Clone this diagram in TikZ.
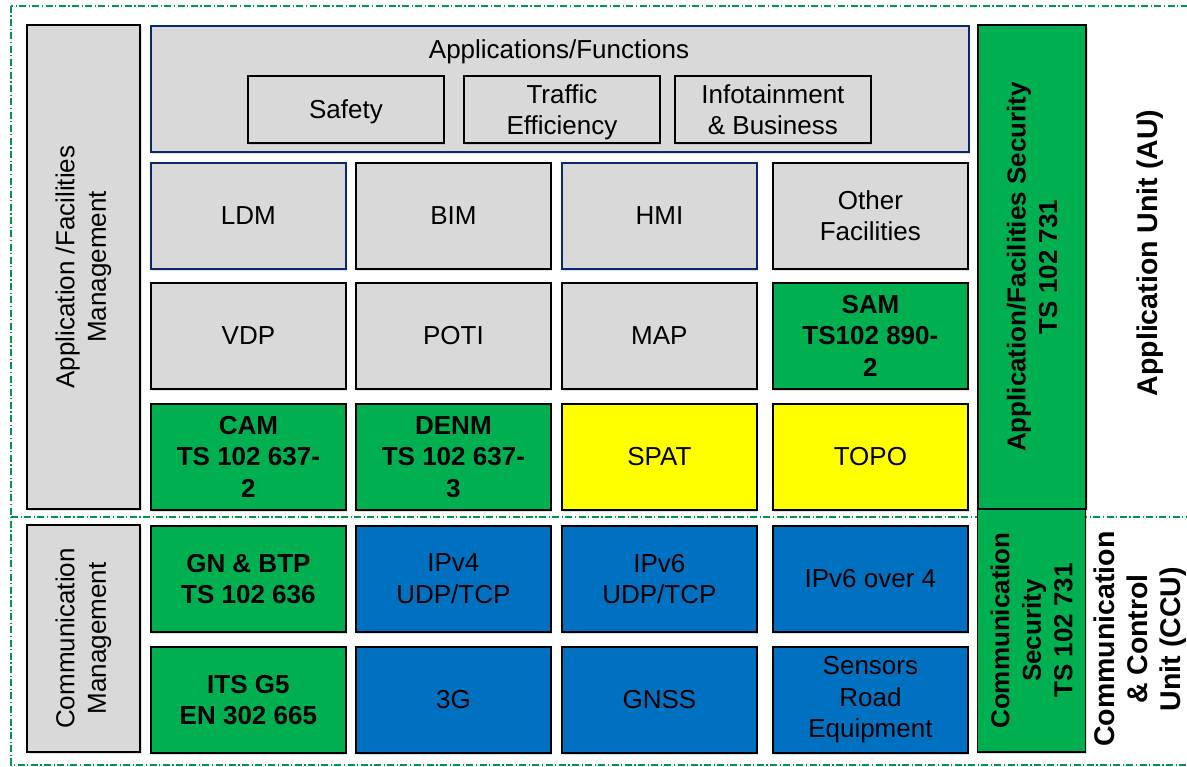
\documentclass[tikz,border=0pt]{standalone}
\usepackage{fontspec}
\setmainfont{Liberation Sans}
\usetikzlibrary{shapes,positioning,shadows}
\definecolor{itsgrey}{RGB}{217,217,217}
\definecolor{itsgreen}{RGB}{0,176,80}
\definecolor{itsblue}{RGB}{0,112,192}
\definecolor{itsyellow}{RGB}{255,255,0}
\definecolor{itsnavy}{RGB}{10,40,110}
\definecolor{itsframe}{RGB}{0,150,80}
\tikzstyle{layer} = [rectangle, draw=black, line width=1.8pt, text=black, align=center, inner sep=2pt, drop shadow={shadow xshift=1.5pt, shadow yshift=-2pt, opacity=0.25}]
\tikzstyle{cell} = [layer, anchor=north west, minimum width=195pt, minimum height=106pt]
\tikzstyle{facility} = [cell, fill=itsgrey]
\tikzstyle{standard} = [cell, fill=itsgreen, font=\bfseries]
\tikzstyle{signal} = [cell, fill=itsyellow]
\tikzstyle{network} = [cell, fill=itsblue]
\tikzstyle{application} = [layer, anchor=north west, fill=itsgrey, minimum width=196pt, minimum height=67pt, text depth=-3pt]
\tikzstyle{mgmt} = [layer, fill=itsgrey, rotate=90, minimum height=113pt]
\tikzstyle{security} = [layer, fill=itsgreen, rotate=90, minimum height=108pt, font=\bfseries]
\tikzstyle{unitlabel} = [rotate=90, align=center, font=\fontsize{28.5}{33}\selectfont\bfseries]
\tikzstyle{unitframe} = [draw=itsframe, line width=1.5pt, dash pattern=on 7pt off 2.5pt on 1.2pt off 2.5pt]

\begin{document}
\fontsize{26}{31.5}\selectfont
\begin{tikzpicture}[x=1pt, y=-1pt]
\useasboundingbox (0,0) rectangle (1187,767);

% Unit frames
\draw[unitframe] (11,6) rectangle (1200,765);
\draw[unitframe] (11,517) -- (1200,517);

% Management columns
\node (afmgmt) [mgmt, minimum width=484pt] at (83.5,267) {Application /Facilities\\Management};
\node (commgmt) [mgmt, minimum width=227pt] at (83.5,638.5) {Communication\\Management};

% Applications
\node (apps) [layer, anchor=north west, fill=itsgrey, draw=itsnavy, minimum width=818pt, minimum height=126pt] at (150,25) {};
\node (appstitle) at (559,52) {Applications/Functions};
\node (safety) [application] at (247,75) {Safety};
\node (traffic) [application] at (463,75) {Traffic\\Efficiency};
\node (infotainment) [application] at (674,75) {Infotainment\\\& Business};

% Facilities
\node (ldm) [facility, draw=itsnavy] at (150,162) {LDM};
\node (bim) [facility] at (355,162) {BIM};
\node (hmi) [facility, draw=itsnavy] at (561,162) {HMI};
\node (other) [facility] at (772,162) {Other\\Facilities};
\node (vdp) [facility] at (150,282) {VDP};
\node (poti) [facility] at (355,282) {POTI};
\node (map) [facility] at (561,282) {MAP};
\node (sam) [standard] at (772,282) {SAM\\TS102 890-\\2};
\node (cam) [standard] at (150,403) {CAM\\TS 102 637-\\2};
\node (denm) [standard] at (355,403) {DENM\\TS 102 637-\\3};
\node (spat) [signal] at (561,403) {SPAT};
\node (topo) [signal] at (772,403) {TOPO};

% Communication
\node (gnbtp) [standard] at (150,525) {GN \& BTP\\TS 102 636};
\node (ipv4) [network] at (355,525) {IPv4\\UDP/TCP};
\node (ipv6) [network] at (561,525) {IPv6\\UDP/TCP};
\node (ipv6over4) [network] at (772,525) {IPv6 over 4};
\node (itsg5) [standard] at (150,646) {ITS G5\\EN 302 665};
\node (threeg) [network] at (355,646) {3G};
\node (gnss) [network] at (561,646) {GNSS};
\node (sensors) [network] at (772,646) {Sensors\\Road\\Equipment};

% Security columns
\node (afsec) [security, minimum width=484pt] at (1032,267) {Application/Facilities Security\\TS 102 731};
\node (commsec) [security, minimum width=243pt] at (1031.5,630.5) {Communication\\Security\\TS 102 731};

% Unit labels
\node (au) [unitlabel] at (1150,253) {Application Unit (AU)};
\node (ccu) [unitlabel] at (1140,639) {Communication\\\& Control\\Unit (CCU)};
\end{tikzpicture}
\end{document}
